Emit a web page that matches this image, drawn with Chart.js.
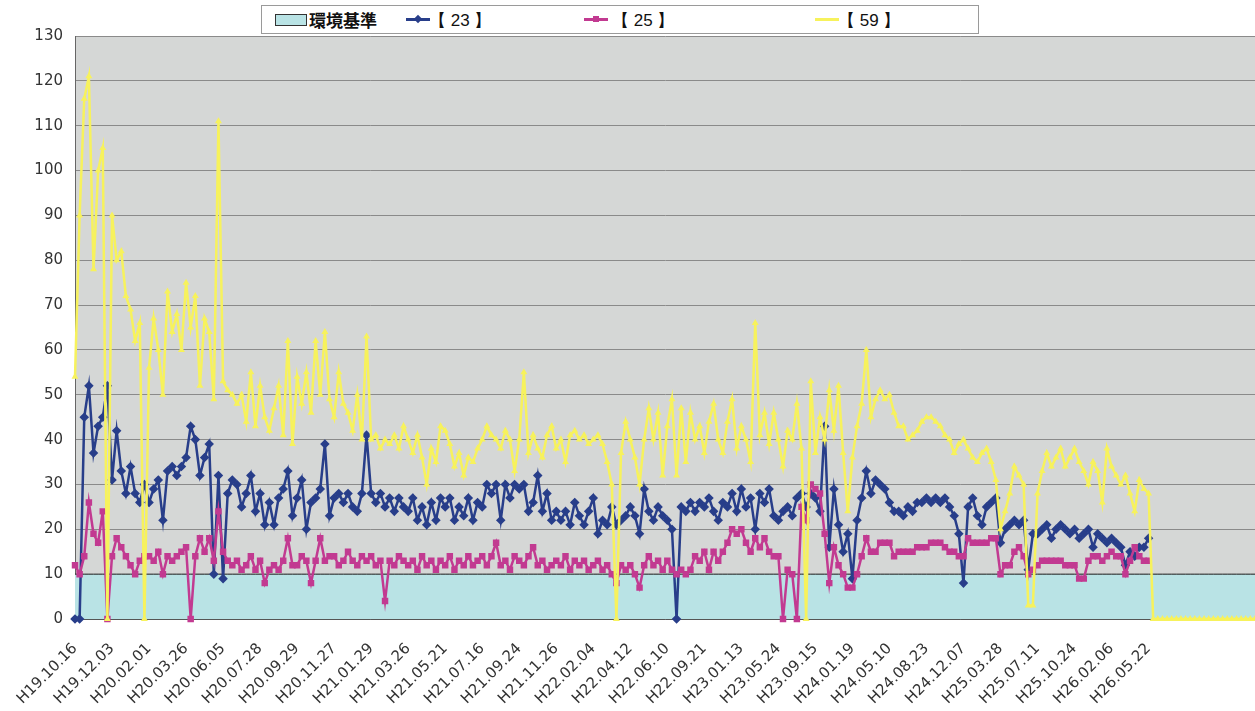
<!DOCTYPE html>
<html>
<head>
<meta charset="utf-8">
<script src="https://cdn.jsdelivr.net/npm/chart.js@4.4.0/dist/chart.umd.min.js"></script>
<style>
  html, body { margin: 0; padding: 0; background: #fff; }
  #wrap { position: relative; width: 1255px; height: 711px; }
  #legend {
    position: absolute; left: 261px; top: 5px; width: 716px; height: 27px;
    border: 1px solid #9a9a9a; background: #fff;
  }
  #legend .item { position: absolute; top: 0; height: 27px; }
  #legend .txt {
    position: absolute; top: 3px; white-space: nowrap; color: #111;
    font: 17px "Liberation Sans", Arial, sans-serif;
  }
  #legend .jp { font: bold 17px "Noto Sans CJK JP", sans-serif; top: 1px; }
  #legend .swatch {
    position: absolute; top: 8px; left: 13px; width: 30px; height: 10px;
    background: #b9e3e5; border: 1px solid #333;
  }
  #legend .ln { position: absolute; top: 12px; height: 3px; width: 24px; }
  #legend .mk { position: absolute; width: 6px; height: 6px; top: 10px; left: 9px; }
</style>
</head>
<body>
<div id="wrap">
  <canvas id="myChart" width="1255" height="711"></canvas>
  <div id="legend">
    <span class="swatch"></span>
    <span class="txt jp" style="left:47px">環境基準</span>
    <span class="item" style="left:144px">
      <span class="ln" style="background:#283e8a"></span>
      <span class="mk" style="background:#283e8a;transform:rotate(45deg)"></span>
    </span>
    <span class="txt" style="left:167px">【 23 】</span>
    <span class="item" style="left:322px">
      <span class="ln" style="background:#c23a91"></span>
      <span class="mk" style="background:#c23a91"></span>
    </span>
    <span class="txt" style="left:350px">【 25 】</span>
    <span class="item" style="left:553px">
      <span class="ln" style="background:#f7f25c"></span>
    </span>
    <span class="txt" style="left:576px">【 59 】</span>
  </div>
</div>
<script>
// tick labels, one every 8 samples
const tickLabels = [
    'H19.10.16', 'H19.12.03', 'H20.02.01', 'H20.03.26', 'H20.06.05', 'H20.07.28',
    'H20.09.29', 'H20.11.27', 'H21.01.29', 'H21.03.26', 'H21.05.21', 'H21.07.16',
    'H21.09.24', 'H21.11.26', 'H22.02.04', 'H22.04.12', 'H22.06.10', 'H22.09.21',
    'H23.01.13', 'H23.05.24', 'H23.09.15', 'H24.01.19', 'H24.05.10', 'H24.08.23',
    'H24.12.07', 'H25.03.28', 'H25.07.11', 'H25.10.24', 'H26.02.06', 'H26.05.22',
];
const samplesPerTick = 8;
const blankRows = 23;       // empty rows after the last measurement
const standardValue = 10;   // 環境基準

const blue23 = [
    0, 0, 45, 52, 37, 43, 45, 52,
    31, 42, 33, 28, 34, 28, 26, 30,
    26, 29, 31, 22, 33, 34, 32, 34,
    36, 43, 40, 32, 36, 39, 10, 32,
    9, 28, 31, 30, 25, 28, 32, 24,
    28, 21, 26, 21, 27, 29, 33, 23,
    27, 31, 20, 26, 27, 29, 39, 23,
    27, 28, 26, 28, 25, 24, 28, 41,
    28, 26, 28, 25, 27, 24, 27, 25,
    24, 27, 22, 25, 21, 26, 22, 27,
    25, 27, 22, 25, 23, 27, 22, 26,
    25, 30, 28, 30, 22, 30, 27, 30,
    29, 30, 24, 26, 32, 24, 28, 22,
    24, 22, 24, 21, 26, 23, 21, 24,
    27, 19, 22, 21, 25, 21, 22, 23,
    25, 23, 19, 29, 24, 22, 25, 23,
    22, 20, 0, 25, 24, 26, 24, 26,
    25, 27, 24, 22, 26, 25, 28, 24,
    29, 25, 27, 20, 28, 26, 29, 23,
    22, 24, 25, 23, 27, 28, 25, 28,
    27, 24, 43, 16, 29, 21, 15, 19,
    9, 22, 27, 33, 28, 31, 30, 29,
    26, 24, 24, 23, 25, 24, 26, 26,
    27, 26, 27, 26, 27, 25, 23, 19,
    8, 25, 27, 23, 21, 25, 26, 27,
    17, 20, 21, 22, 21, 22, 11, 19,
    19, 20, 21, 18, 20, 21, 20, 19,
    20, 18, 19, 20, 16, 19, 18, 17,
    18, 17, 16, 12, 15, 14, 16, 16,
    18,
];

const magenta25 = [
    12, 10, 14, 26, 19, 17, 24, 0,
    14, 18, 16, 14, 12, 10, 13, 14,
    14, 13, 15, 10, 14, 13, 14, 15,
    16, 0, 14, 18, 15, 18, 13, 24,
    15, 13, 12, 13, 11, 12, 14, 11,
    13, 8, 11, 12, 11, 13, 18, 12,
    12, 14, 13, 8, 13, 18, 13, 14,
    14, 12, 13, 15, 13, 12, 14, 13,
    14, 12, 13, 4, 13, 12, 14, 13,
    12, 13, 11, 14, 12, 13, 11, 13,
    12, 14, 11, 13, 12, 14, 12, 13,
    14, 12, 14, 17, 12, 13, 11, 14,
    13, 12, 14, 16, 12, 13, 11, 12,
    13, 12, 14, 11, 13, 12, 13, 11,
    12, 13, 11, 12, 10, 8, 12, 11,
    12, 10, 7, 12, 14, 12, 13, 11,
    13, 11, 10, 11, 10, 11, 14, 13,
    15, 11, 15, 13, 15, 17, 20, 19,
    20, 17, 15, 18, 16, 18, 15, 14,
    14, 0, 11, 10, 0, 25, 22, 30,
    29, 28, 19, 8, 16, 12, 10, 7,
    7, 10, 14, 18, 15, 15, 17, 17,
    17, 14, 15, 15, 15, 15, 16, 16,
    16, 17, 17, 17, 16, 15, 15, 14,
    14, 18, 17, 17, 17, 17, 18, 18,
    10, 12, 12, 15, 16, 14, 10, 11,
    12, 13, 13, 13, 13, 13, 12, 12,
    12, 9, 9, 13, 14, 14, 13, 14,
    15, 14, 14, 10, 13, 16, 14, 13,
    13,
];

const yellow59 = [
    54, 90, 116, 121, 78, 100, 105, 0,
    90, 80, 82, 72, 69, 62, 66, 0,
    56, 67, 60, 50, 73, 64, 68, 60,
    75, 65, 72, 52, 67, 64, 49, 111,
    53, 51, 50, 48, 50, 44, 55, 43,
    52, 45, 42, 47, 52, 41, 62, 39,
    54, 48, 55, 46, 62, 50, 64, 49,
    45, 55, 48, 46, 42, 50, 40, 63,
    40, 41, 38, 40, 39, 41, 38, 43,
    40, 37, 41, 36, 30, 38, 35, 43,
    42, 39, 34, 37, 32, 36, 35, 38,
    40, 43, 41, 40, 38, 42, 40, 33,
    40, 55, 37, 41, 38, 36, 41, 43,
    38, 40, 35, 41, 42, 40, 41, 39,
    40, 41, 39, 35, 30, 0, 37, 44,
    40, 36, 30, 40, 47, 40, 46, 32,
    43, 49, 32, 47, 35, 46, 40, 43,
    37, 44, 48, 40, 37, 44, 49, 38,
    43, 40, 35, 66, 41, 46, 39, 46,
    40, 34, 42, 40, 48, 38, 0, 53,
    37, 45, 40, 51, 42, 52, 37, 24,
    36, 43, 48, 60, 45, 49, 51, 49,
    50, 46, 43, 43, 40, 41, 42, 44,
    45, 45, 44, 43, 41, 40, 37, 39,
    40, 38, 36, 35, 37, 38, 35, 31,
    20, 24, 28, 34, 32, 30, 3, 3,
    28, 33, 37, 34, 36, 38, 34, 36,
    38, 35, 33, 30, 35, 33, 26, 38,
    34, 32, 30, 32, 28, 24, 31, 29,
    28,
    0, 0, 0, 0, 0, 0, 0, 0, 0, 0, 0, 0,
    0, 0, 0, 0, 0, 0, 0, 0, 0, 0, 0,
];

// category list: tick label at every 8th sample, blank otherwise
const categories = [];
tickLabels.forEach((t, k) => {
    categories.push(t);
    if (k < tickLabels.length - 1) {
        for (let j = 1; j < samplesPerTick; j++) categories.push('');
    }
});
for (let j = 0; j < blankRows; j++) categories.push('');

const standard = categories.map(() => standardValue);

// grey plot area like the Excel original
const plotBackground = {
    id: 'plotBackground',
    beforeDraw(chart) {
        const { ctx, chartArea: a } = chart;
        ctx.save();
        ctx.fillStyle = '#d5d7d6';
        ctx.fillRect(a.left, a.top, a.right - a.left, a.bottom - a.top);
        ctx.restore();
    },
};

const axisFont = { family: '"DejaVu Sans", sans-serif', size: 15 };

const ctx = document.getElementById('myChart').getContext('2d');
const myChart = new Chart(ctx, {
    type: 'line',
    data: {
        labels: categories,
        datasets: [
            {
                label: '【 59 】',
                data: yellow59,
                borderColor: '#f7f25c',
                backgroundColor: '#f7f25c',
                borderWidth: 2.5,
                pointStyle: 'triangle',
                pointRadius: 1.5,
                order: 0,
                clip: 6,
            },
            {
                label: '【 25 】',
                data: magenta25,
                borderColor: '#c23a91',
                backgroundColor: '#c23a91',
                borderWidth: 2.5,
                pointStyle: 'rect',
                pointRadius: 2.8,
                order: 1,
                clip: 6,
            },
            {
                label: '【 23 】',
                data: blue23,
                borderColor: '#283e8a',
                backgroundColor: '#283e8a',
                borderWidth: 2.5,
                pointStyle: 'rectRot',
                pointRadius: 3,
                order: 2,
                clip: 6,
            },
            {
                label: '環境基準',
                data: standard,
                fill: 'origin',
                backgroundColor: '#b9e3e5',
                borderColor: '#222',
                borderWidth: 1,
                pointRadius: 0,
                order: 3,
            },
        ],
    },
    options: {
        responsive: false,
        animation: false,
        elements: { line: { tension: 0 } },
        layout: { autoPadding: false, padding: { top: 36, right: 0, left: 0, bottom: 0 } },
        plugins: {
            legend: { display: false },
            tooltip: { enabled: false },
        },
        scales: {
            x: {
                grid: { display: false },
                border: { color: '#555' },
                ticks: {
                    autoSkip: false,
                    maxRotation: 45,
                    minRotation: 45,
                    padding: 13,
                    color: '#333',
                    font: axisFont,
                },
                afterFit: scale => {
                    scale.height = 92;
                    scale.paddingRight = 0;
                },
            },
            y: {
                min: 0,
                max: 130,
                ticks: { stepSize: 10, padding: 12, color: '#333', font: axisFont },
                grid: { color: '#8a8a8a', drawTicks: false },
                border: { color: '#666' },
                afterFit: scale => { scale.width = 75; },
            },
        },
    },
    plugins: [plotBackground],
});
</script>
</body>
</html>
